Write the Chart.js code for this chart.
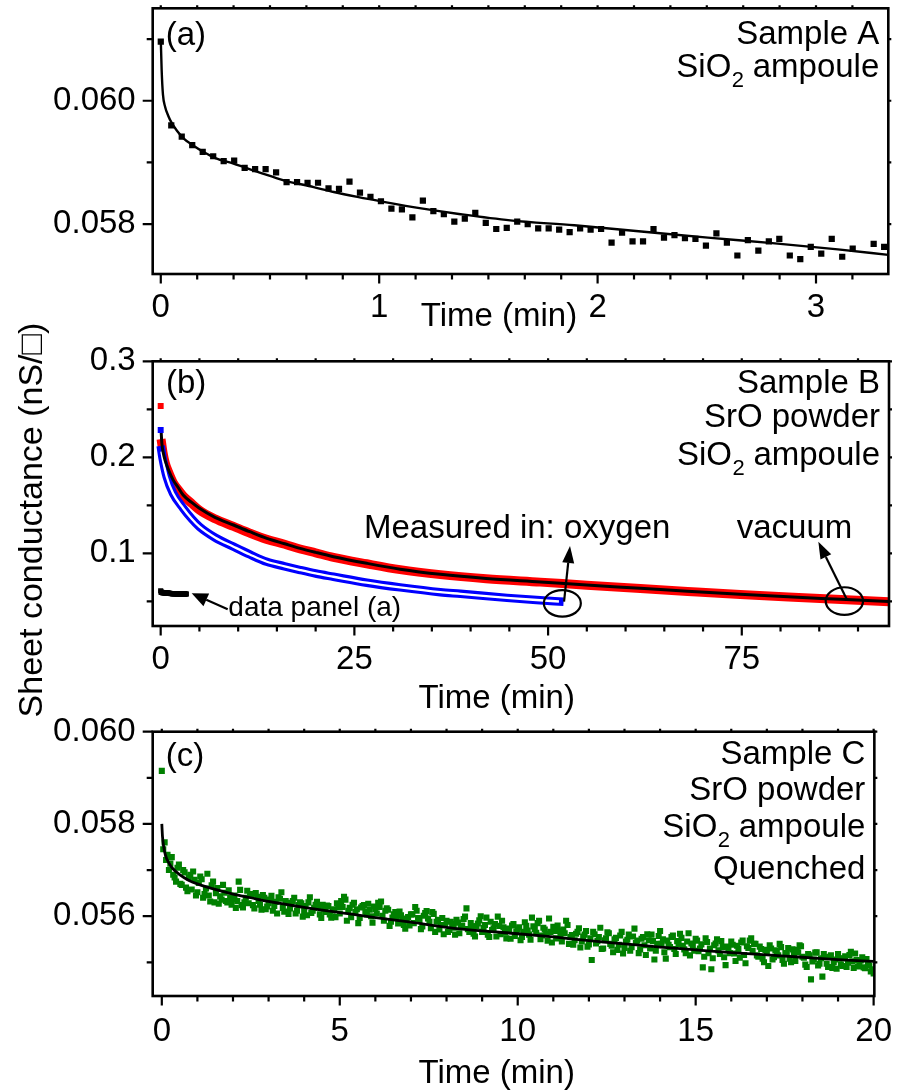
<!DOCTYPE html>
<html>
<head>
<meta charset="utf-8">
<title>Sheet conductance relaxation</title>
<script src="https://cdn.jsdelivr.net/npm/chart.js@4.4.1/dist/chart.umd.min.js"></script>
<style>
  html, body { margin: 0; padding: 0; background: #ffffff; }
  #wrap { position: relative; width: 908px; height: 1091px; overflow: hidden; background: #fff; }
  #wrap canvas { position: absolute; left: 0; }
</style>
</head>
<body>
<div id="wrap">
  <canvas id="chartB" width="908" height="440" style="top:300px"></canvas>
  <canvas id="chartA" width="908" height="380" style="top:-40px"></canvas>
  <canvas id="chartC" width="908" height="431" style="top:660px"></canvas>
</div>
<script>
// ---------------- Panel (a): Sample A ----------------
const timeA = [0,0.048,0.096,0.144,0.192,0.24,0.288,0.336,0.384,0.432,0.48,0.528,0.576,0.624,0.672,0.72,0.768,0.816,0.864,0.912,0.96,1.008,1.056,1.104,1.152,1.2,1.248,1.296,1.344,1.392,1.44,1.488,1.536,1.584,1.632,1.68,1.728,1.776,1.824,1.872,1.92,1.968,2.016,2.064,2.112,2.16,2.208,2.256,2.304,2.352,2.4,2.448,2.496,2.544,2.592,2.64,2.688,2.736,2.784,2.832,2.88,2.928,2.976,3.024,3.072,3.12,3.168,3.264,3.312];
const valueA = [0.06096,0.05960,0.05942,0.05928,0.05917,0.05910,0.05902,0.05903,0.05891,0.05889,0.05889,0.05884,0.05868,0.05868,0.05867,0.05867,0.05858,0.05857,0.05869,0.05851,0.05844,0.05837,0.05825,0.05824,0.05811,0.05838,0.05821,0.05816,0.05804,0.05809,0.05818,0.05802,0.05792,0.05794,0.05804,0.05800,0.05793,0.05793,0.05791,0.05787,0.05793,0.05791,0.05792,0.05770,0.05786,0.05772,0.05772,0.05792,0.05778,0.05782,0.05777,0.05776,0.05765,0.05785,0.05770,0.05749,0.05774,0.05757,0.05772,0.05776,0.05749,0.05743,0.05763,0.05752,0.05776,0.05747,0.05760,0.05768,0.05763];
const fitTimeA = [0,0.004,0.01,0.02,0.035,0.05,0.075,0.104,0.15,0.2,0.25,0.333,0.45,0.563,0.7,0.792,0.9,1.02,1.2,1.373,1.6,1.893,2.2,2.505,2.8,3.1,3.331];
const fitValueA = [0.06100,0.06050,0.06010,0.05990,0.05975,0.05964,0.05951,0.05939,0.05927,0.05916,0.05907,0.05898,0.05884,0.05871,0.05860,0.05852,0.05844,0.05836,0.05825,0.05816,0.05806,0.05798,0.05788,0.05778,0.05769,0.05759,0.05750];
const xTicksA = [0, 1, 2, 3];
const xMinorA = [0.1667,0.3333,0.5,0.6667,0.8333,1.1667,1.3333,1.5,1.6667,1.8333,2.1667,2.3333,2.5,2.6667,2.8333,3.1667];
const yTicksA = [0.058, 0.060];
const yMinorA = [0.059, 0.061];

// ---------------- Panel (b): Sample B ----------------
const vacuumTime = [0.05,0.3,0.6,1,1.6,2.3,2.9,4,5,7,9.4,11.5,13.7,16,18,20,22.3,26.6,30.9,36.1,42,49,55,61.9,68,74.8,81,87.8,94];
const vacuumValue = [0.219,0.205,0.194,0.185,0.174,0.166,0.160,0.152,0.145,0.136,0.128,0.121,0.1145,0.1095,0.1045,0.1005,0.0958,0.0891,0.0830,0.0778,0.0736,0.0700,0.0668,0.0633,0.0603,0.0571,0.0546,0.0519,0.0495];
const fitVacTime = [0.05,0.15,0.3,0.6,1,1.6,2.3,2.9,4,5,7,9.4,11.5,13.7,16,18,20,22.3,26.6,30.9,36.1,42,49,55,61.9,68,74.8,81,87.8,94];
const fitVacValue = [0.228,0.215,0.206,0.196,0.187,0.1765,0.168,0.1607,0.153,0.1469,0.1375,0.1295,0.1225,0.1156,0.1100,0.1052,0.1010,0.0965,0.0896,0.0835,0.0781,0.0738,0.0702,0.0670,0.0636,0.0605,0.0573,0.0547,0.0521,0.0497];
const oxyTime = [0,0.25,0.77,1.6,2.9,4,5,7,9.4,11.5,13.7,16,18,20,22.3,26.6,30.9,36.1,38.7,44.7,48.5,52];
const oxyValue = [0.212,0.199,0.180,0.1625,0.147,0.136,0.1277,0.1165,0.1069,0.0988,0.0912,0.0865,0.0826,0.0790,0.0756,0.0694,0.0645,0.0595,0.0578,0.0536,0.0514,0.0496];
const fitOxyTime = [0.1,0.25,0.77,1.6,2.9,4,5,7,9.4,11.5,13.7,16,18,20,22.3,26.6,30.9,36.1,38.7,44.7,48.5,51.4];
const fitOxyValue = [0.206,0.199,0.180,0.1625,0.147,0.136,0.1277,0.1165,0.1069,0.0988,0.0912,0.0865,0.0826,0.0790,0.0756,0.0694,0.0645,0.0595,0.0578,0.0536,0.0514,0.0498];
const startTimeB = [0];
const vacuumStartValue = [0.2535];
const oxyStartValue = [0.2285];
const xTicksB = [0, 25, 50, 75];
const xMinorB = [5,10,15,20,30,35,40,45,55,60,65,70,80,85,90];
const yTicksB = [0.1, 0.2, 0.3];
const yMinorB = [0.05, 0.15, 0.25];

// ---------------- Panel (c): Sample C ----------------
const timeC = [0,0.08,0.16,0.24,0.32,0.4,0.48,0.56,0.64,0.72,0.8,0.88,0.96,1.04,1.12,1.2,1.28,1.36,1.44,1.52,1.6,1.68,1.76,1.84,1.92,2,2.08,2.16,2.24,2.32,2.4,2.48,2.56,2.64,2.72,2.8,2.88,2.96,3.04,3.12,3.2,3.28,3.36,3.44,3.52,3.6,3.68,3.76,3.84,3.92,4,4.08,4.16,4.24,4.32,4.4,4.48,4.56,4.64,4.72,4.8,4.88,4.96,5.04,5.12,5.2,5.28,5.36,5.44,5.52,5.6,5.68,5.76,5.84,5.92,6,6.08,6.16,6.24,6.32,6.4,6.48,6.56,6.64,6.72,6.8,6.88,6.96,7.04,7.12,7.2,7.28,7.36,7.44,7.52,7.6,7.68,7.76,7.84,7.92,8,8.08,8.16,8.24,8.32,8.4,8.48,8.56,8.64,8.72,8.8,8.88,8.96,9.04,9.12,9.2,9.28,9.36,9.44,9.52,9.6,9.68,9.76,9.84,9.92,10,10.08,10.16,10.24,10.32,10.4,10.48,10.56,10.64,10.72,10.8,10.88,10.96,11.04,11.12,11.2,11.28,11.36,11.44,11.52,11.6,11.68,11.76,11.84,11.92,12,12.08,12.16,12.24,12.32,12.4,12.48,12.56,12.64,12.72,12.8,12.88,12.96,13.04,13.12,13.2,13.28,13.36,13.44,13.52,13.6,13.68,13.76,13.84,13.92,14,14.08,14.16,14.24,14.32,14.4,14.48,14.56,14.64,14.72,14.8,14.88,14.96,15.04,15.12,15.2,15.28,15.36,15.44,15.52,15.6,15.68,15.76,15.84,15.92,16,16.08,16.16,16.24,16.32,16.4,16.48,16.56,16.64,16.72,16.8,16.88,16.96,17.04,17.12,17.2,17.28,17.36,17.44,17.52,17.6,17.68,17.76,17.84,17.92,18,18.08,18.16,18.24,18.32,18.4,18.48,18.56,18.64,18.72,18.8,18.88,18.96,19.04,19.12,19.2,19.28,19.36,19.44,19.52,19.6,19.68,19.76,19.84,19.92,20];
const valueC = [
0.05915,0.05760,0.05733,0.05714,0.05690,0.05675,0.05712,0.05668,0.05695,0.05654,
0.05690,0.05697,0.05645,0.05672,0.05680,0.05648,0.05692,0.05632,0.05675,0.05650,
0.05627,0.05636,0.05651,0.05630,0.05641,0.05637,0.05618,0.05675,0.05624,0.05630,
0.05655,0.05646,0.05624,0.05650,0.05633,0.05614,0.05640,0.05621,0.05636,0.05612,
0.05631,0.05641,0.05652,0.05610,0.05629,0.05617,0.05633,0.05606,0.05624,0.05628,
0.05611,0.05602,0.05641,0.05612,0.05625,0.05620,0.05596,0.05616,0.05623,0.05604,
0.05612,0.05598,0.05620,0.05633,0.05642,0.05590,0.05618,0.05625,0.05609,0.05585,
0.05619,0.05624,0.05604,0.05614,0.05586,0.05615,0.05629,0.05632,0.05590,0.05617,
0.05579,0.05597,0.05609,0.05584,0.05602,0.05581,0.05595,0.05580,0.05604,0.05620,
0.05596,0.05572,0.05601,0.05611,0.05588,0.05609,0.05566,0.05592,0.05581,0.05561,
0.05590,0.05570,0.05583,0.05560,0.05586,0.05577,0.05594,0.05617,0.05566,0.05578,
0.05556,0.05584,0.05600,0.05575,0.05597,0.05555,0.05570,0.05583,0.05599,0.05561,
0.05576,0.05552,0.05568,0.05580,0.05557,0.05571,0.05548,0.05566,0.05579,0.05560,
0.05597,0.05572,0.05585,0.05550,0.05575,0.05562,0.05595,0.05543,0.05568,0.05580,
0.05556,0.05571,0.05590,0.05540,0.05559,0.05548,0.05566,0.05532,0.05556,0.05568,
0.05539,0.05505,0.05561,0.05546,0.05575,0.05530,0.05552,0.05563,0.05536,0.05550,
0.05527,0.05558,0.05519,0.05545,0.05560,0.05533,0.05573,0.05547,0.05528,0.05555,
0.05516,0.05548,0.05560,0.05506,0.05540,0.05568,0.05550,0.05508,0.05538,0.05555,
0.05529,0.05546,0.05562,0.05536,0.05520,0.05563,0.05541,0.05525,0.05547,0.05530,
0.05489,0.05552,0.05520,0.05485,0.05537,0.05550,0.05518,0.05533,0.05494,0.05528,
0.05545,0.05519,0.05536,0.05510,0.05547,0.05498,0.05531,0.05552,0.05540,0.05515,
0.05534,0.05508,0.05527,0.05492,0.05530,0.05511,0.05522,0.05540,0.05505,0.05520,
0.05531,0.05500,0.05516,0.05527,0.05537,0.05512,0.05495,0.05518,0.05463,0.05506,
0.05522,0.05497,0.05469,0.05511,0.05490,0.05515,0.05500,0.05486,0.05508,0.05492,
0.05513,0.05499,0.05523,0.05488,0.05505,0.05494,0.05511,0.05487,0.05498,0.05480,
0.05476];
const timeC2 = [0.04,0.12,0.2,0.28,0.36,0.44,0.52,0.6,0.68,0.76,0.84,0.92,1,1.08,1.16,1.24,1.32,1.4,1.48,1.56,1.64,1.72,1.8,1.88,1.96,2.04,2.12,2.2,2.28,2.36,2.44,2.52,2.6,2.68,2.76,2.84,2.92,3,3.08,3.16,3.24,3.32,3.4,3.48,3.56,3.64,3.72,3.8,3.88,3.96,4.04,4.12,4.2,4.28,4.36,4.44,4.52,4.6,4.68,4.76,4.84,4.92,5,5.08,5.16,5.24,5.32,5.4,5.48,5.56,5.64,5.72,5.8,5.88,5.96,6.04,6.12,6.2,6.28,6.36,6.44,6.52,6.6,6.68,6.76,6.84,6.92,7,7.08,7.16,7.24,7.32,7.4,7.48,7.56,7.64,7.72,7.8,7.88,7.96,8.04,8.12,8.2,8.28,8.36,8.44,8.52,8.6,8.68,8.76,8.84,8.92,9,9.08,9.16,9.24,9.32,9.4,9.48,9.56,9.64,9.72,9.8,9.88,9.96,10.04,10.12,10.2,10.28,10.36,10.44,10.52,10.6,10.68,10.76,10.84,10.92,11,11.08,11.16,11.24,11.32,11.4,11.48,11.56,11.64,11.72,11.8,11.88,11.96,12.04,12.12,12.2,12.28,12.36,12.44,12.52,12.6,12.68,12.76,12.84,12.92,13,13.08,13.16,13.24,13.32,13.4,13.48,13.56,13.64,13.72,13.8,13.88,13.96,14.04,14.12,14.2,14.28,14.36,14.44,14.52,14.6,14.68,14.76,14.84,14.92,15,15.08,15.16,15.24,15.32,15.4,15.48,15.56,15.64,15.72,15.8,15.88,15.96,16.04,16.12,16.2,16.28,16.36,16.44,16.52,16.6,16.68,16.76,16.84,16.92,17,17.08,17.16,17.24,17.32,17.4,17.48,17.56,17.64,17.72,17.8,17.88,17.96,18.04,18.12,18.2,18.28,18.36,18.44,18.52,18.6,18.68,18.76,18.84,18.92,19,19.08,19.16,19.24,19.32,19.4,19.48,19.56,19.64,19.72,19.8,19.88,19.96];
const valueC2 = [
0.05745,0.05722,0.05700,0.05728,0.05684,0.05705,0.05670,0.05700,0.05662,0.05684,
0.05658,0.05679,0.05652,0.05686,0.05640,0.05660,0.05645,0.05667,0.05630,0.05661,
0.05643,0.05668,0.05633,0.05656,0.05625,0.05645,0.05633,0.05657,0.05619,0.05640,
0.05628,0.05648,0.05617,0.05642,0.05625,0.05646,0.05615,0.05628,0.05644,0.05622,
0.05606,0.05638,0.05618,0.05633,0.05605,0.05627,0.05640,0.05612,0.05630,0.05599,
0.05622,0.05630,0.05607,0.05618,0.05631,0.05604,0.05625,0.05609,0.05622,0.05597,
0.05615,0.05628,0.05606,0.05620,0.05636,0.05612,0.05598,0.05629,0.05615,0.05596,
0.05622,0.05610,0.05627,0.05600,0.05621,0.05606,0.05620,0.05601,0.05612,0.05614,
0.05588,0.05604,0.05596,0.05610,0.05591,0.05573,0.05598,0.05604,0.05585,0.05612,
0.05591,0.05578,0.05607,0.05595,0.05574,0.05605,0.05588,0.05571,0.05596,0.05581,
0.05566,0.05588,0.05575,0.05592,0.05563,0.05580,0.05599,0.05572,0.05585,0.05562,
0.05578,0.05591,0.05566,0.05581,0.05560,0.05588,0.05574,0.05556,0.05579,0.05590,
0.05565,0.05573,0.05551,0.05583,0.05567,0.05576,0.05555,0.05587,0.05569,0.05549,
0.05578,0.05564,0.05590,0.05558,0.05571,0.05547,0.05566,0.05577,0.05552,0.05568,
0.05545,0.05563,0.05581,0.05555,0.05538,0.05562,0.05574,0.05545,0.05560,0.05534,
0.05552,0.05566,0.05541,0.05555,0.05529,0.05548,0.05565,0.05540,0.05522,0.05553,
0.05538,0.05566,0.05531,0.05549,0.05525,0.05556,0.05542,0.05520,0.05551,0.05537,
0.05561,0.05530,0.05546,0.05525,0.05557,0.05540,0.05522,0.05547,0.05533,0.05558,
0.05518,0.05540,0.05553,0.05528,0.05545,0.05515,0.05537,0.05551,0.05524,0.05539,
0.05512,0.05544,0.05530,0.05509,0.05541,0.05526,0.05546,0.05511,0.05534,0.05520,
0.05538,0.05503,0.05529,0.05543,0.05516,0.05535,0.05547,0.05525,0.05540,0.05512,
0.05529,0.05500,0.05524,0.05537,0.05506,0.05526,0.05515,0.05533,0.05497,0.05519,
0.05508,0.05528,0.05503,0.05522,0.05535,0.05510,0.05490,0.05515,0.05502,0.05521,
0.05493,0.05509,0.05518,0.05497,0.05512,0.05488,0.05506,0.05518,0.05495,0.05509,
0.05490,0.05516,0.05502,0.05519,0.05491,0.05504,0.05489,0.05507,0.05493,0.05485];
const fitTimeC = [0,0.02,0.05,0.1,0.2,0.3,0.5,0.75,1,1.5,2,2.5,3,4,5,6,7,8,9,10,11,12,13,14,15,16,17,18,19,20];
const fitValueC = [0.05800,0.05772,0.05752,0.05733,0.05715,0.05704,0.05690,0.05678,0.05670,0.05658,0.05648,0.05640,0.05632,0.05619,0.05608,0.05597,0.05587,0.05576,0.05568,0.05562,0.05555,0.05547,0.05540,0.05533,0.05527,0.05521,0.05516,0.05511,0.05506,0.05502];
const xTicksC = [0, 5, 10, 15, 20];
const xMinorC = [1,2,3,4,6,7,8,9,11,12,13,14,16,17,18,19];
const yTicksC = [0.056, 0.058, 0.060];
const yMinorC = [0.055, 0.057, 0.059];

// ---------------- drawing helpers ----------------
const FAMILY = '"Liberation Sans", Arial, Helvetica, sans-serif';
const MAIN_FONT = '33px ' + FAMILY;
const TITLE_FONT = '34px ' + FAMILY;
const SUB_FONT = '22px ' + FAMILY;
const SMALL_FONT = '28px ' + FAMILY;
Chart.defaults.font.family = FAMILY;
Chart.defaults.color = '#000';

function toPoints(xs, ys) { return xs.map((x, i) => ({ x: x, y: ys[i] })); }

function drawArrow(ctx, x1, y1, x2, y2, headLen, headHalf, lw) {
  const ang = Math.atan2(y2 - y1, x2 - x1);
  const bx = x2 - headLen * Math.cos(ang), by = y2 - headLen * Math.sin(ang);
  ctx.lineWidth = lw;
  ctx.beginPath(); ctx.moveTo(x1, y1); ctx.lineTo(bx, by); ctx.stroke();
  ctx.beginPath();
  ctx.moveTo(x2, y2);
  ctx.lineTo(bx + headHalf * Math.sin(ang), by - headHalf * Math.cos(ang));
  ctx.lineTo(bx - headHalf * Math.sin(ang), by + headHalf * Math.cos(ang));
  ctx.closePath(); ctx.fill();
}

function makeDecor(spec) {
  return {
    id: 'decor',
    afterDatasetsDraw(chart) {
      const ctx = chart.ctx, a = chart.chartArea;
      const xs = chart.scales.x, ys = chart.scales.y;
      ctx.save();
      ctx.strokeStyle = '#000'; ctx.fillStyle = '#000';
      ctx.lineWidth = 2.2;
      ctx.beginPath();
      const seg = (x1, y1, x2, y2) => { ctx.moveTo(x1, y1); ctx.lineTo(x2, y2); };
      spec.xMajor.forEach(v => { const p = xs.getPixelForValue(v); seg(p, a.bottom, p, a.bottom + 9.5); seg(p, a.top, p, a.top - 3); });
      spec.xMinor.forEach(v => { const p = xs.getPixelForValue(v); seg(p, a.bottom, p, a.bottom + 5.5); seg(p, a.top, p, a.top - 3); });
      spec.yMajor.forEach(v => { const p = ys.getPixelForValue(v); seg(a.left, p, a.left - 10, p); seg(a.right, p, a.right + 3, p); });
      spec.yMinor.forEach(v => { const p = ys.getPixelForValue(v); seg(a.left, p, a.left - 6, p); seg(a.right, p, a.right + 3, p); });
      ctx.stroke();
      ctx.lineWidth = 2.6;
      ctx.strokeRect(a.left, a.top, a.right - a.left, a.bottom - a.top);

      ctx.textBaseline = 'alphabetic';
      ctx.font = MAIN_FONT; ctx.textAlign = 'left';
      ctx.fillText(spec.tag.text, a.left + spec.tag.dx, a.top + spec.tag.dy);
      const right = a.right - 9;
      spec.lines.forEach(L => {
        const y = a.top + L.dy;
        if (L.sub) {
          ctx.font = MAIN_FONT;
          const w1 = ctx.measureText(L.pre).width, w3 = ctx.measureText(L.post).width;
          ctx.font = SUB_FONT;
          const w2 = ctx.measureText(L.sub).width;
          let x = right - (w1 + w2 + w3);
          ctx.textAlign = 'left';
          ctx.font = MAIN_FONT; ctx.fillText(L.pre, x, y); x += w1;
          ctx.font = SUB_FONT; ctx.fillText(L.sub, x + 0.5, y + 10); x += w2;
          ctx.font = MAIN_FONT; ctx.fillText(L.post, x, y);
        } else {
          ctx.font = MAIN_FONT; ctx.textAlign = 'right';
          ctx.fillText(L.text, right, y);
        }
      });
      ctx.font = MAIN_FONT; ctx.textAlign = 'center';
      ctx.fillText(spec.xTitle.text, spec.xTitle.x, a.bottom + spec.xTitle.dy);
      (spec.notes || []).forEach(n => {
        ctx.font = n.font; ctx.textAlign = 'left';
        ctx.fillText(n.text, xs.getPixelForValue(n.x), ys.getPixelForValue(n.y));
      });
      (spec.arrows || []).forEach(r => {
        drawArrow(ctx, xs.getPixelForValue(r.from[0]), ys.getPixelForValue(r.from[1]),
                  xs.getPixelForValue(r.to[0]), ys.getPixelForValue(r.to[1]), r.len, r.half, 2.2);
      });
      (spec.ellipses || []).forEach(e => {
        ctx.lineWidth = 2.2;
        ctx.beginPath();
        ctx.ellipse(xs.getPixelForValue(e.x), ys.getPixelForValue(e.y), e.rx, e.ry, 0, 0, Math.PI * 2);
        ctx.stroke();
      });
      if (spec.yTitle) {
        ctx.save();
        ctx.translate(spec.yTitle.x, spec.yTitle.y);
        ctx.rotate(-Math.PI / 2);
        ctx.font = TITLE_FONT; ctx.textAlign = 'center'; ctx.textBaseline = 'alphabetic';
        ctx.fillText(spec.yTitle.text, 0, 0);
        ctx.restore();
      }
      ctx.restore();
    }
  };
}

function axes(xmin, xmax, xTicks, ymin, ymax, yTicks, yDigits, xHeight, xPad) {
  return {
    x: {
      type: 'linear', min: xmin, max: xmax,
      afterBuildTicks: s => { s.ticks = xTicks.map(v => ({ value: v })); },
      afterFit: s => { s.height = xHeight; },
      grid: { display: false, drawTicks: false }, border: { display: false },
      ticks: { font: { size: 33 }, color: '#000', padding: xPad, autoSkip: false, maxRotation: 0, minRotation: 0,
               callback: v => String(v) }
    },
    y: {
      type: 'linear', min: ymin, max: ymax,
      afterBuildTicks: s => { s.ticks = yTicks.map(v => ({ value: v })); },
      afterFit: s => { s.width = 152.7; },
      grid: { display: false, drawTicks: false }, border: { display: false },
      ticks: { font: { size: 33 }, color: '#000', padding: 17, autoSkip: false,
               callback: v => Number(v).toFixed(yDigits) }
    }
  };
}

const common = {
  responsive: false, animation: false, devicePixelRatio: 1,
  events: [],
  plugins: { legend: { display: false }, tooltip: { enabled: false } }
};

// ---------- chart A ----------
new Chart(document.getElementById('chartA'), {
  type: 'scatter',
  data: { datasets: [
    { type: 'scatter', data: toPoints(timeA, valueA), pointStyle: 'rect', pointRadius: 4.4, pointBorderWidth: 0, backgroundColor: '#000', order: 0 },
    { type: 'line', data: toPoints(fitTimeA, fitValueA), borderColor: '#000', borderWidth: 2.4, pointRadius: 0, cubicInterpolationMode: 'monotone', fill: false, order: 1 }
  ]},
  options: Object.assign({}, common, {
    layout: { padding: { top: 48.3, right: 19.7, left: 0, bottom: 0 } },
    scales: axes(-0.037, 3.331, xTicksA, 0.05719, 0.0615, yTicksA, 3, 66, 14)
  }),
  plugins: [makeDecor({
    xMajor: xTicksA, xMinor: xMinorA, yMajor: yTicksA, yMinor: yMinorA,
    tag: { text: '(a)', dx: 13, dy: 36.4 },
    lines: [ { text: 'Sample A', dy: 35.2 }, { sub: '2', pre: 'SiO', post: ' ampoule', dy: 68.5 } ],
    xTitle: { text: 'Time (min)', x: 499, dy: 52 }
  })]
});

// ---------- chart B ----------
new Chart(document.getElementById('chartB'), {
  type: 'scatter',
  data: { datasets: [
    { type: 'line', data: toPoints(vacuumTime, vacuumValue), borderColor: '#ff0000', borderWidth: 9, pointRadius: 0, cubicInterpolationMode: 'monotone', fill: false, order: 6 },
    { type: 'line', data: toPoints(oxyTime, oxyValue), borderColor: '#0000ff', borderWidth: 8.5, pointRadius: 0, cubicInterpolationMode: 'monotone', fill: false, order: 5 },
    { type: 'line', data: toPoints(fitOxyTime, fitOxyValue), borderColor: '#ffffff', borderWidth: 2.3, pointRadius: 0, cubicInterpolationMode: 'monotone', fill: false, order: 4 },
    { type: 'line', data: toPoints(fitVacTime, fitVacValue), borderColor: '#000', borderWidth: 3, pointRadius: 0, cubicInterpolationMode: 'monotone', fill: false, order: 3 },
    { type: 'scatter', data: toPoints(startTimeB, vacuumStartValue), pointStyle: 'rect', pointRadius: 4.2, pointBorderWidth: 0, backgroundColor: '#ff0000', order: 2 },
    { type: 'scatter', data: toPoints(startTimeB, oxyStartValue), pointStyle: 'rect', pointRadius: 4.2, pointBorderWidth: 0, backgroundColor: '#0000ff', order: 1 },
    { type: 'scatter', data: toPoints(timeA, valueA), pointStyle: 'rect', pointRadius: 3.6, pointBorderWidth: 0, backgroundColor: '#000', order: 0 }
  ]},
  options: Object.assign({}, common, {
    layout: { padding: { top: 61.3, right: 19, left: 0, bottom: 0 } },
    scales: axes(-1.03, 94.0, xTicksB, 0.0243, 0.3, yTicksB, 1, 114, 14)
  }),
  plugins: [makeDecor({
    xMajor: xTicksB, xMinor: xMinorB, yMajor: yTicksB, yMinor: yMinorB,
    tag: { text: '(b)', dx: 13.3, dy: 31.7 },
    lines: [ { text: 'Sample B', dy: 31.7 }, { text: 'SrO powder', dy: 66 }, { sub: '2', pre: 'SiO', post: ' ampoule', dy: 103.7 } ],
    xTitle: { text: 'Time (min)', x: 496.7, dy: 82 },
    notes: [
      { text: 'Measured in: oxygen', x: 26.24, y: 0.1158, font: MAIN_FONT },
      { text: 'vacuum', x: 74.35, y: 0.1158, font: MAIN_FONT },
      { text: 'data panel (a)', x: 8.73, y: 0.0347, font: SMALL_FONT }
    ],
    arrows: [
      { from: [8.65, 0.0417], to: [4.0, 0.0583], len: 16, half: 7 },
      { from: [52.06, 0.0496], to: [52.83, 0.1076], len: 17, half: 6 },
      { from: [88.55, 0.0521], to: [84.88, 0.1121], len: 17, half: 6 }
    ],
    ellipses: [
      { x: 51.84, y: 0.0479, rx: 18.5, ry: 13.3 },
      { x: 88.24, y: 0.0503, rx: 18.7, ry: 13.8 }
    ],
    yTitle: { text: 'Sheet conductance (nS/\u25A1)', x: 42, y: 220 }
  })]
});

// ---------- chart C ----------
new Chart(document.getElementById('chartC'), {
  type: 'scatter',
  data: { datasets: [
    { type: 'line', data: toPoints(fitTimeC, fitValueC), borderColor: '#000', borderWidth: 2.8, pointRadius: 0, cubicInterpolationMode: 'monotone', fill: false, order: 0 },
    { type: 'scatter', data: toPoints(timeC, valueC).concat(toPoints(timeC2, valueC2)), pointStyle: 'rect', pointRadius: 4.3, pointBorderWidth: 0, backgroundColor: '#008000', order: 1 }
  ]},
  options: Object.assign({}, common, {
    layout: { padding: { top: 71.7, right: 19.7, left: 0, bottom: 0 } },
    scales: axes(-0.256, 20.02, xTicksC, 0.05427, 0.060, yTicksC, 3, 95, 16)
  }),
  plugins: [makeDecor({
    xMajor: xTicksC, xMinor: xMinorC, yMajor: yTicksC, yMinor: yMinorC,
    tag: { text: '(c)', dx: 13, dy: 34.6 },
    lines: [ { text: 'Sample C', dy: 32.3 }, { text: 'SrO powder', dy: 68.3 }, { sub: '2', pre: 'SiO', post: ' ampoule', dy: 105 }, { text: 'Quenched', dy: 147.3 } ],
    xTitle: { text: 'Time (min)', x: 496.7, dy: 87 }
  })]
});
</script>
</body>
</html>
